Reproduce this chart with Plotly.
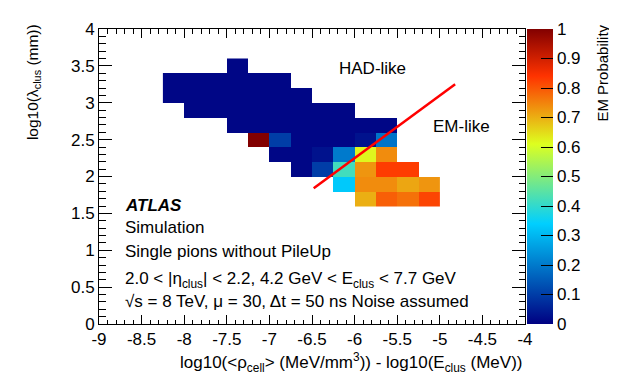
import plotly.graph_objects as go

# ---------------- data ----------------
x_bins = [-8.125, -7.875, -7.625, -7.375, -7.125, -6.875, -6.625,
          -6.375, -6.125, -5.875, -5.625, -5.375, -5.125]
y_bins = [1.7, 1.9, 2.1, 2.3, 2.5, 2.7, 2.9, 3.1, 3.3, 3.5]
N = None
row_1p7 = [N, N, N, N, N, N, N, N, N, 0.70, 0.79, 0.77, 0.82]
row_1p9 = [N, N, N, N, N, N, N, N, 0.33, 0.74, 0.74, 0.71, 0.73]
row_2p1 = [N, N, N, N, N, N, 0.01, 0.10, 0.42, 0.73, 0.83, 0.83, N]
row_2p3 = [N, N, N, N, N, 0.01, 0.01, 0.03, 0.20, 0.62, 0.74, N, N]
row_2p5 = [N, N, N, N, 1.00, 0.10, 0.01, 0.01, 0.01, 0.03, 0.19, N, N]
row_2p7 = [N, N, N, 0.01, 0.01, 0.01, 0.01, 0.01, 0.01, 0.01, 0.01, N, N]
row_2p9 = [N, 0.01, 0.01, 0.01, 0.01, 0.01, 0.01, 0.01, 0.01, N, N, N, N]
row_3p1 = [0.01, 0.01, 0.01, 0.01, 0.01, 0.01, 0.01, N, N, N, N, N, N]
row_3p3 = [0.01, 0.01, 0.01, 0.01, 0.01, 0.01, N, N, N, N, N, N, N]
row_3p5 = [N, N, N, 0.01, N, N, N, N, N, N, N, N, N]
z_rows = [row_1p7, row_1p9, row_2p1, row_2p3, row_2p5,
          row_2p7, row_2p9, row_3p1, row_3p3, row_3p5]

cut_x = [-6.48, -4.82]
cut_y = [1.84, 3.25]

x_ticks = [-9, -8.5, -8, -7.5, -7, -6.5, -6, -5.5, -5, -4.5, -4]
x_ticktext = ["-9", "-8.5", "-8", "-7.5", "-7", "-6.5", "-6", "-5.5", "-5", "-4.5", "-4"]
y_ticks = [0, 0.5, 1, 1.5, 2, 2.5, 3, 3.5, 4]
y_ticktext = ["0", "0.5", "1", "1.5", "2", "2.5", "3", "3.5", "4"]
c_ticks = [0, 0.1, 0.2, 0.3, 0.4, 0.5, 0.6, 0.7, 0.8, 0.9, 1]
c_ticktext = ["0", "0.1", "0.2", "0.3", "0.4", "0.5", "0.6", "0.7", "0.8", "0.9", "1"]

FONT = "Liberation Sans, Arial, Helvetica, sans-serif"

colorscale = [
    [0.00, "rgb(0,0,130)"],
    [0.34, "rgb(0,207,255)"],
    [0.61, "rgb(222,255,31)"],
    [0.84, "rgb(255,51,0)"],
    [1.00, "rgb(130,0,0)"],
]

fig = go.Figure()
fig.add_trace(go.Heatmap(
    x=x_bins, y=y_bins, z=z_rows, zmin=0, zmax=1,
    colorscale=colorscale, hoverongaps=False,
    colorbar=dict(
        thickness=26, thicknessmode="pixels",
        len=1, lenmode="fraction", y=0.5, yanchor="middle",
        x=1.0047, xanchor="left", xpad=0, ypad=0,
        outlinewidth=0,
        ticks="inside", ticklen=12, tickwidth=1, tickcolor="black",
        tickmode="array", tickvals=c_ticks, ticktext=c_ticktext,
        tickfont=dict(family=FONT, size=17, color="black"),
    ),
))
fig.add_trace(go.Scatter(x=cut_x, y=cut_y, mode="lines",
                         line=dict(color="rgb(255,0,0)", width=2.5),
                         showlegend=False, hoverinfo="skip"))

axis_common = dict(showgrid=False, zeroline=False, showline=True,
                   linecolor="black", linewidth=1, mirror="allticks",
                   ticks="inside", tickcolor="black", tickwidth=1,
                   tickfont=dict(family=FONT, size=17, color="black"))

fig.update_xaxes(range=[-9, -4], tickmode="array", tickvals=x_ticks,
                 ticktext=x_ticktext, ticklen=9,
                 minor=dict(tickmode="linear", tick0=-9, dtick=0.1,
                            ticks="inside", ticklen=4.5, tickcolor="black"),
                 **axis_common)
fig.update_yaxes(range=[0, 4], tickmode="array", tickvals=y_ticks,
                 ticktext=y_ticktext, ticklen=13,
                 minor=dict(tickmode="linear", tick0=0, dtick=0.1,
                            ticks="inside", ticklen=6.5, tickcolor="black"),
                 **axis_common)

ann_font = dict(family=FONT, size=17, color="black")
annotations = [
    dict(text="HAD-like", x=0.641, y=0.865, xanchor="center", yanchor="middle"),
    dict(text="EM-like", x=0.85, y=0.67, xanchor="center", yanchor="middle"),
    dict(text="<b><i>ATLAS</i></b>", x=0.057, y=0.402, xanchor="left", yanchor="middle"),
    dict(text="Simulation", x=0.057, y=0.3265, xanchor="left", yanchor="middle"),
    dict(text="Single pions without PileUp", x=0.057, y=0.247, xanchor="left", yanchor="middle"),
    dict(text="2.0 &lt; |η<sub>clus</sub>| &lt; 2.2, 4.2 GeV &lt; E<sub>clus</sub> &lt; 7.7 GeV",
         x=0.057, y=0.15, xanchor="left", yanchor="middle"),
    dict(text="√s = 8 TeV, μ = 30, Δt = 50 ns Noise assumed", x=0.057, y=0.0768,
         xanchor="left", yanchor="middle"),
    dict(text="log10(&lt;ρ<sub>cell</sub>&gt; (MeV/mm<sup>3</sup>)) - log10(E<sub>clus</sub> (MeV))",
         x=1.0, y=-0.132, xanchor="right", yanchor="middle"),
]
for a in annotations:
    a.update(font=ann_font)
annotations += [
    dict(text="log10(λ<sub>clus</sub> (mm))", x=-0.155, y=0.82, textangle=-90,
         xanchor="center", yanchor="middle", font=dict(family=FONT, size=15.5, color="black")),
    dict(text="EM Probability", x=1.183, y=0.852, textangle=-90,
         xanchor="center", yanchor="middle", font=dict(family=FONT, size=15, color="black")),
]
for a in annotations:
    a.update(xref="paper", yref="paper", showarrow=False)
fig.update_layout(annotations=annotations)

# the page body has an 8px default margin: compensate so the plot lands
# at the same pixel positions as the reference
fig.update_layout(
    width=609, height=377,
    margin=dict(l=91, r=92, t=13, b=61),
    paper_bgcolor="white", plot_bgcolor="white",
    font=dict(family=FONT, size=17, color="black"),
    showlegend=False,
)

fig.write_html("out.html")
